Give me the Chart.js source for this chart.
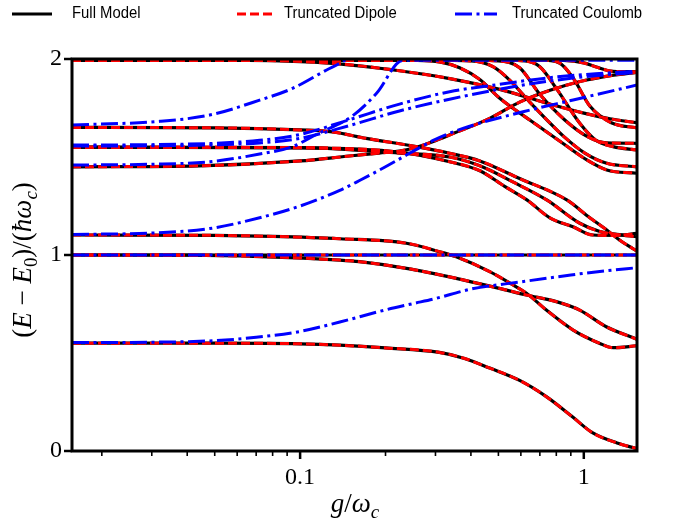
<!DOCTYPE html>
<html lang="en">
<head>
<meta charset="UTF-8">
<title>Energy levels vs coupling</title>
<script src="https://cdn.jsdelivr.net/npm/chart.js@4.4.0/dist/chart.umd.min.js"></script>
<style>
    body { margin: 0; background: #ffffff; }
</style>
</head>
<body>
<canvas id="levels" width="695" height="524"></canvas>
<script>
// axis range (coupling g/wc on a log axis, energy in units of hbar*wc)
const gMin = 0.0157;
const gMax = 1.54;
const eMin = 0;
const eMax = 2;

const xTickValues = [0.02, 0.03, 0.04, 0.05, 0.06, 0.07, 0.08, 0.09, 0.1,
                     0.2, 0.3, 0.4, 0.5, 0.6, 0.7, 0.8, 0.9, 1];
const xTickLabels = { 0.1: '0.1', 1: '1' };
const yTickValues = [0, 1, 2];

const legendNames = ['Full Model', 'Truncated Dipole', 'Truncated Coulomb'];

// ---- full model (the truncated dipole curves sit on top of these) ----
const gLow = [0.0157, 0.05, 0.1, 0.138, 0.2, 0.31, 0.38, 0.466, 0.594, 0.74, 0.914, 1.076, 1.31, 1.54];
const eLow = [0.55, 0.55, 0.547, 0.54, 0.526, 0.503, 0.472, 0.423, 0.36, 0.276, 0.173, 0.092, 0.041, 0.012];

const gFlat = [0.0157, 1.54];
const eFlat = [1, 1];

const gMidA = [0.0157, 0.04, 0.072, 0.138, 0.162, 0.237, 0.355, 0.503, 0.628, 0.80, 0.967, 1.2, 1.54];
const eMidA = [1.0, 0.999, 0.992, 0.974, 0.966, 0.932, 0.881, 0.830, 0.796, 0.762, 0.719, 0.634, 0.570];

const gMidB = [0.0157, 0.05, 0.08, 0.138, 0.237, 0.31, 0.355, 0.466, 0.563, 0.628, 0.738, 0.917, 1.139, 1.269, 1.54];
const eMidB = [1.102, 1.1, 1.095, 1.083, 1.06, 1.017, 0.991, 0.915, 0.847, 0.805, 0.719, 0.617, 0.549, 0.527, 0.537];

const gRise = [0.0157, 0.044, 0.1, 0.149, 0.19, 0.224, 0.264, 0.293, 0.336, 0.466, 0.594, 0.76, 0.97, 1.24, 1.54];
const eRise = [1.45, 1.455, 1.48, 1.505, 1.52, 1.53, 1.555, 1.578, 1.612, 1.697, 1.78, 1.84, 1.885, 1.915, 1.932];

const gUpA = [0.0157, 0.1, 0.224, 0.3365, 0.43, 0.526, 0.63, 0.759, 0.915, 1.076, 1.287, 1.54];
const eUpA = [1.55, 1.547, 1.525, 1.476, 1.43, 1.35, 1.281, 1.19, 1.144, 1.102, 1.10, 1.11];

const gUpB = [0.0157, 0.1, 0.224, 0.3365, 0.43, 0.56, 0.74, 0.968, 1.139, 1.308, 1.54];
const eUpB = [1.55, 1.548, 1.52, 1.50, 1.455, 1.374, 1.281, 1.162, 1.12, 1.105, 1.093];

const gUpC = [0.0157, 0.05, 0.1, 0.13, 0.171, 0.257, 0.3365, 0.43, 0.594, 0.871, 1.05, 1.205, 1.34, 1.54];
const eUpC = [1.651, 1.649, 1.638, 1.628, 1.595, 1.553, 1.519, 1.48, 1.39, 1.281, 1.19, 1.128, 1.075, 1.02];

const gTop1 = [0.0157, 0.066, 0.13, 0.224, 0.3365, 0.5054, 0.7586, 0.992, 1.236, 1.54];
const eTop1 = [1.995, 1.993, 1.978, 1.94, 1.90, 1.845, 1.77, 1.725, 1.695, 1.675];

const gTop2 = [0.0157, 0.15, 0.25, 0.31, 0.365, 0.43, 0.5054, 0.645, 0.843, 1.025, 1.205, 1.54];
const eTop2 = [1.995, 1.995, 1.993, 1.985, 1.955, 1.895, 1.80, 1.689, 1.57, 1.485, 1.434, 1.417];

const gTop3 = [0.0157, 0.25, 0.4, 0.48, 0.55, 0.645, 0.7405, 0.857, 1.008, 1.205, 1.54];
const eTop3 = [1.995, 1.995, 1.99, 1.96, 1.89, 1.78, 1.69, 1.60, 1.52, 1.468, 1.45];

const gTop4 = [0.0157, 0.35, 0.5, 0.594, 0.6996, 0.857, 1.03, 1.205, 1.54];
const eTop4 = [1.995, 1.995, 1.99, 1.955, 1.82, 1.689, 1.604, 1.572, 1.57];

const gTop5 = [0.0157, 0.45, 0.62, 0.7, 0.80, 0.968, 1.1, 1.267, 1.54];
const eTop5 = [1.995, 1.995, 1.99, 1.96, 1.85, 1.672, 1.587, 1.553, 1.536];

const gTop6 = [0.0157, 0.6, 0.85, 1.0, 1.1, 1.267, 1.54];
const eTop6 = [1.995, 1.995, 1.993, 1.98, 1.96, 1.937, 1.935];

const gTop7 = [0.0157, 0.7, 0.82, 0.92, 1.05, 1.25, 1.54];
const eTop7 = [1.995, 1.995, 1.98, 1.9, 1.76, 1.675, 1.648];

// ---- truncated Coulomb ----
const gCoulLow = [0.0157, 0.03, 0.05, 0.07, 0.1, 0.138, 0.2, 0.25, 0.3, 0.4, 0.6, 0.9, 1.2, 1.54];
const eCoulLow = [0.553, 0.555, 0.563, 0.58, 0.61, 0.658, 0.72, 0.752, 0.778, 0.826, 0.863, 0.898, 0.92, 0.935];

const gCoulMid = [0.0157, 0.03, 0.048, 0.072, 0.1, 0.138, 0.162, 0.2, 0.237, 0.3, 0.375, 0.611, 0.917, 1.54];
const eCoulMid = [1.105, 1.112, 1.135, 1.19, 1.25, 1.33, 1.38, 1.45, 1.51, 1.59, 1.646, 1.731, 1.791, 1.867];

const gCoulSteep = [0.0157, 0.03, 0.048, 0.072, 0.094, 0.114, 0.153, 0.186, 0.23, 0.3, 1.54];
const eCoulSteep = [1.459, 1.463, 1.476, 1.515, 1.553, 1.615, 1.71, 1.825, 1.993, 1.993, 1.993];

const gCoulPair = [0.0157, 0.03, 0.05, 0.072, 0.1, 0.149, 0.224, 0.3365, 0.5, 0.76, 1.1, 1.54];
const eCoulPairA = [1.561, 1.563, 1.57, 1.585, 1.615, 1.69, 1.77, 1.833, 1.87, 1.905, 1.925, 1.937];
const eCoulPairB = [1.556, 1.557, 1.562, 1.572, 1.595, 1.66, 1.735, 1.795, 1.845, 1.888, 1.915, 1.932];

const gCoulTop = [0.0157, 0.032, 0.048, 0.072, 0.094, 0.124, 0.141, 0.155];
const eCoulTop = [1.663, 1.682, 1.714, 1.79, 1.85, 1.944, 1.986, 2.03];

const fullCurves = [
    [gLow, eLow], [gFlat, eFlat], [gMidA, eMidA], [gMidB, eMidB],
    [gRise, eRise], [gUpA, eUpA], [gUpB, eUpB], [gUpC, eUpC],
    [gTop1, eTop1], [gTop2, eTop2], [gTop3, eTop3], [gTop4, eTop4],
    [gTop5, eTop5], [gTop6, eTop6], [gTop7, eTop7]
];
const coulombCurves = [
    [gCoulLow, eCoulLow], [gFlat, eFlat], [gCoulMid, eCoulMid], [gCoulSteep, eCoulSteep],
    [gCoulPair, eCoulPairA], [gCoulPair, eCoulPairB], [gCoulTop, eCoulTop]
];

const styles = {
    full:    { color: '#000000', width: 3.2, dash: [] },
    dipole:  { color: '#ff0000', width: 3.0, dash: [9, 4] },
    coulomb: { color: '#0000ff', width: 3.0, dash: [17, 4.5, 3, 4.5] }
};

function toPoints(g, e) {
    return g.map((v, i) => ({ x: v, y: e[i] }));
}

function makeSet(curve, style, order) {
    return {
        data: toPoints(curve[0], curve[1]),
        borderColor: style.color,
        borderWidth: style.width,
        borderDash: style.dash,
        borderCapStyle: 'butt',
        pointRadius: 0,
        fill: false,
        cubicInterpolationMode: 'monotone',
        clip: 0,
        order: order
    };
}

// lower order is painted on top: coulomb over dipole over full model
const datasets = [];
coulombCurves.forEach(c => datasets.push(makeSet(c, styles.coulomb, 1)));
fullCurves.forEach(c => datasets.push(makeSet(c, styles.dipole, 2)));
fullCurves.forEach(c => datasets.push(makeSet(c, styles.full, 3)));

// text with italic letters and subscripts, centred on (0,0)
function drawMath(ctx, parts, size) {
    const fontFor = p => (p.it ? 'italic ' : '') + (p.sub ? size * 0.7 : size) + 'px "Liberation Serif"';
    let total = 0;
    parts.forEach(p => { ctx.font = fontFor(p); p.w = ctx.measureText(p.t).width; total += p.w; });
    let x = -total / 2;
    ctx.textBaseline = 'alphabetic';
    ctx.textAlign = 'left';
    parts.forEach(p => {
        ctx.font = fontFor(p);
        ctx.fillText(p.t, x, p.sub ? size * 0.22 : 0);
        x += p.w;
    });
}

const decorations = {
    id: 'decorations',
    afterDatasetsDraw(chart) {
        const ctx = chart.ctx;
        const area = chart.chartArea;
        const xs = chart.scales.x;
        const ys = chart.scales.y;
        ctx.save();
        ctx.strokeStyle = '#000';
        ctx.fillStyle = '#000';

        // frame
        ctx.lineWidth = 3;
        ctx.strokeRect(area.left, area.top, area.right - area.left, area.bottom - area.top);

        // tick marks
        xTickValues.forEach(v => {
            const px = xs.getPixelForValue(v);
            const major = v === 0.1 || v === 1;
            ctx.lineWidth = major ? 2.5 : 1.6;
            ctx.beginPath();
            ctx.moveTo(px, area.bottom);
            ctx.lineTo(px, area.bottom + (major ? 8 : 5));
            ctx.stroke();
        });
        yTickValues.forEach(v => {
            const py = ys.getPixelForValue(v);
            ctx.lineWidth = 2.5;
            ctx.beginPath();
            ctx.moveTo(area.left, py);
            ctx.lineTo(area.left - 8, py);
            ctx.stroke();
        });

        // axis titles
        ctx.save();
        ctx.translate(31, 260);
        ctx.rotate(-Math.PI / 2);
        drawMath(ctx, [
            { t: '(' }, { t: 'E', it: true }, { t: ' − ' }, { t: 'E', it: true }, { t: '0', sub: true },
            { t: ')/(' }, { t: 'ħω', it: true }, { t: 'c', it: true, sub: true }, { t: ')' }
        ], 27);
        ctx.restore();

        ctx.save();
        ctx.translate(355, 512);
        drawMath(ctx, [{ t: 'g', it: true }, { t: '/' }, { t: 'ω', it: true }, { t: 'c', it: true, sub: true }], 27);
        ctx.restore();

        // legend row
        const entries = [
            { s: styles.full, x0: 12, x1: 52, tx: 72 },
            { s: styles.dipole, x0: 237, x1: 274, tx: 284 },
            { s: styles.coulomb, x0: 455, x1: 497, tx: 512 }
        ];
        const ly = 14;
        entries.forEach((en, i) => {
            ctx.strokeStyle = en.s.color;
            ctx.lineWidth = en.s.width;
            ctx.setLineDash(en.s.dash);
            ctx.beginPath();
            ctx.moveTo(en.x0, ly);
            ctx.lineTo(en.x1, ly);
            ctx.stroke();
            ctx.setLineDash([]);
            // slightly condensed sans for the legend labels
            ctx.save();
            ctx.translate(en.tx, ly);
            ctx.scale(0.93, 1);
            ctx.font = '16px "Liberation Sans"';
            ctx.textBaseline = 'middle';
            ctx.textAlign = 'left';
            ctx.fillStyle = '#000';
            ctx.fillText(legendNames[i], 0, 0);
            ctx.restore();
        });
        ctx.restore();
    }
};

const tickFont = { family: 'Liberation Serif', size: 24 };

new Chart(document.getElementById('levels'), {
    type: 'line',
    data: { datasets: datasets },
    options: {
        responsive: false,
        devicePixelRatio: 1,
        animation: false,
        events: [],
        layout: { padding: { top: 59, right: 58, left: 0, bottom: 0 } },
        plugins: { legend: { display: false }, tooltip: { enabled: false } },
        scales: {
            x: {
                type: 'logarithmic',
                min: gMin,
                max: gMax,
                grid: { display: false, drawTicks: false },
                border: { display: false },
                afterBuildTicks: axis => { axis.ticks = xTickValues.map(v => ({ value: v })); },
                ticks: {
                    autoSkip: false,
                    maxRotation: 0,
                    padding: 12,
                    color: '#000',
                    font: tickFont,
                    callback: v => xTickLabels[v] || ''
                },
                afterFit: scale => { scale.height = 73; }
            },
            y: {
                min: eMin,
                max: eMax,
                grid: { display: false, drawTicks: false },
                border: { display: false },
                afterBuildTicks: axis => { axis.ticks = yTickValues.map(v => ({ value: v })); },
                ticks: {
                    padding: 10,
                    color: '#000',
                    font: tickFont,
                    callback: v => String(v)
                },
                afterFit: scale => { scale.width = 72; }
            }
        }
    },
    plugins: [decorations]
});
</script>
</body>
</html>
